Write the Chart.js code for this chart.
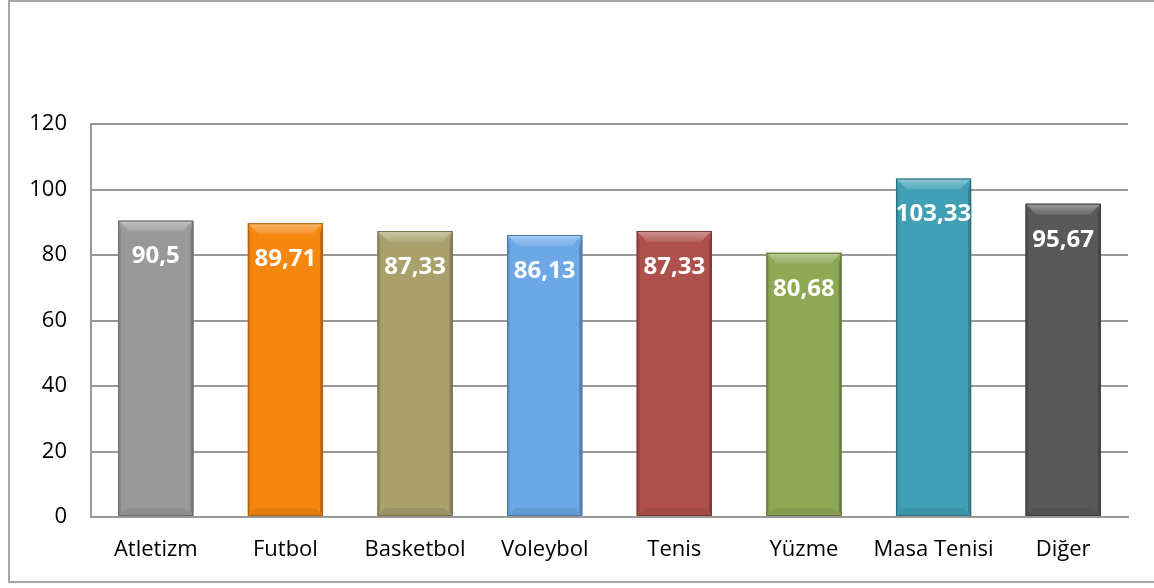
<!DOCTYPE html>
<html>
<head>
<meta charset="utf-8">
<script src="https://cdn.jsdelivr.net/npm/chart.js@4.4.1/dist/chart.umd.min.js"></script>
<style>
  html, body { margin: 0; padding: 0; background: #fff; }
  #wrap { width: 1154px; height: 588px; position: relative; }
</style>
</head>
<body>
<div id="wrap"><canvas id="sportChart"></canvas></div>
<script>
const sports = ["Atletizm", "Futbol", "Basketbol", "Voleybol", "Tenis", "Yüzme", "Masa Tenisi", "Diğer"];
const scores = [90.5, 89.71, 87.33, 86.13, 87.33, 80.68, 103.33, 95.67];
const barColors = ["#999999", "#F5870F", "#A9A06C", "#6CA8E6", "#AE504C", "#8FA854", "#41A0B6", "#595959"];
const yTicks = [0, 20, 40, 60, 80, 100, 120];

// helpers for the bevelled look of the bars
function shade(hex, amt) {
  let n = parseInt(hex.slice(1), 16);
  let r = (n >> 16) & 255, g = (n >> 8) & 255, b = n & 255;
  const f = (c) => Math.max(0, Math.min(255, Math.round(amt > 0 ? c + (255 - c) * amt : c * (1 + amt))));
  return "rgb(" + f(r) + "," + f(g) + "," + f(b) + ")";
}

const framePlugin = {
  id: "frame",
  beforeDraw(chart) {
    const ctx = chart.ctx;
    ctx.save();
    ctx.strokeStyle = "#A6A6A6";
    ctx.lineWidth = 2;
    ctx.strokeRect(9, 1, 1200, 581);
    ctx.restore();
  }
};

const bevelPlugin = {
  id: "bevel",
  afterDatasetsDraw(chart) {
    const ctx = chart.ctx;
    const meta = chart.getDatasetMeta(0);
    meta.data.forEach((bar, i) => {
      const col = barColors[i];
      const left = bar.x - bar.width / 2;
      const right = bar.x + bar.width / 2;
      const top = bar.y;
      const bottom = bar.base;
      const b = 11;
      ctx.save();
      // top bevel
      let g = ctx.createLinearGradient(0, top, 0, top + b);
      g.addColorStop(0, shade(col, 0.4));
      g.addColorStop(1, shade(col, 0.1));
      ctx.fillStyle = g;
      ctx.beginPath();
      ctx.moveTo(left, top);
      ctx.lineTo(right, top);
      ctx.lineTo(right - b, top + b);
      ctx.lineTo(left + b, top + b);
      ctx.closePath();
      ctx.fill();
      // side edges
      ctx.fillStyle = shade(col, -0.1);
      ctx.beginPath();
      ctx.moveTo(left, top);
      ctx.lineTo(left + 3, top + b);
      ctx.lineTo(left + 3, bottom - 4);
      ctx.lineTo(left, bottom);
      ctx.closePath();
      ctx.fill();
      ctx.fillStyle = shade(col, -0.2);
      ctx.beginPath();
      ctx.moveTo(right, top);
      ctx.lineTo(right - 3, top + b);
      ctx.lineTo(right - 3, bottom - 4);
      ctx.lineTo(right, bottom);
      ctx.closePath();
      ctx.fill();
      // bottom bevel
      ctx.fillStyle = shade(col, -0.08);
      ctx.beginPath();
      ctx.moveTo(left, bottom);
      ctx.lineTo(left + 8, bottom - 8);
      ctx.lineTo(right - 8, bottom - 8);
      ctx.lineTo(right, bottom);
      ctx.closePath();
      ctx.fill();
      ctx.strokeStyle = shade(col, -0.3);
      ctx.lineWidth = 1;
      ctx.strokeRect(left + 0.5, top + 0.5, bar.width - 1, bottom - top - 1);
      // value label
      ctx.fillStyle = "#ffffff";
      ctx.font = "bold 24px 'Open Sans'";
      ctx.textAlign = "center";
      ctx.textBaseline = "middle";
      ctx.fillText(String(scores[i]).replace(".", ","), bar.x, top + 36);
      ctx.restore();
    });
  }
};

new Chart(document.getElementById("sportChart"), {
  type: "bar",
  data: {
    labels: sports,
    datasets: [{
      data: scores,
      backgroundColor: barColors,
      borderWidth: 0,
      barPercentage: 0.58,
      categoryPercentage: 1
    }]
  },
  options: {
    responsive: true,
    maintainAspectRatio: false,
    animation: false,
    layout: { padding: { top: 124, right: 26, bottom: 8, left: 0 } },
    plugins: { legend: { display: false }, tooltip: { enabled: false } },
    scales: {
      x: {
        grid: { display: false, drawTicks: false },
        border: { color: "#999999", width: 2 },
        ticks: { color: "#000", font: { family: "'Open Sans'", size: 22 }, padding: 20, maxRotation: 0 },
        afterFit(scale) { scale.height = 63; }
      },
      y: {
        min: 0,
        max: 120,
        afterBuildTicks(scale) { scale.ticks = yTicks.map(v => ({ value: v })); },
        grid: { color: "#999999", lineWidth: 2, drawTicks: false },
        border: { color: "#999999", width: 2 },
        ticks: { color: "#000", font: { family: "'Open Sans'", size: 22 }, padding: 24 },
        afterFit(scale) { scale.width = 91; }
      }
    }
  },
  plugins: [framePlugin, bevelPlugin]
});
</script>
</body>
</html>
